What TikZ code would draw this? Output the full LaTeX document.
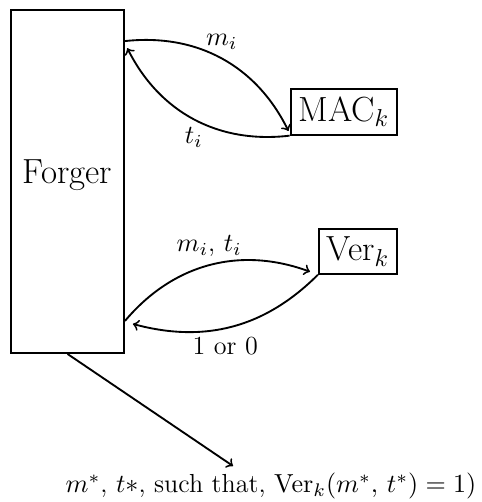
\RequirePackage{fix-cm}
\documentclass[tikz,border=0pt]{standalone}
\usepackage{amsmath,amssymb}
\usetikzlibrary{positioning,calc}

\begin{document}
\begin{tikzpicture}[
  font=\fontsize{11.2}{13.5}\selectfont, thick,
  party/.style={draw, font=\fontsize{15}{18}\selectfont},
  lk/.style={->},
]
\useasboundingbox (0,0) rectangle (7.258,-7.575);
% Forger
\node[party, minimum width=1.705cm, minimum height=5.176cm,
      text height=10pt, text depth=8.7pt] (forger) at (1.019,-2.739) {Forger};
% Oracles
\node[party, anchor=east] (mac) at (6.006,-1.690) {MAC$_k$};
\node[party, anchor=east] (ver) at (6.006,-3.795) {Ver$_k$};
% MAC queries
\draw[lk] ([yshift=-0.483cm]forger.north east) to[bend left=35]
  node[above]{$m_i$} ([shift={(-0.5pt,2pt)}]mac.south west);
\draw[lk] (mac.south west) to[bend left=35]
  node[below]{$t_i$} ([shift={(1pt,-0.59cm)}]forger.north east);
% Verification queries
\draw[lk] ([yshift=0.498cm]forger.south east) to[bend left=35]
  node[above]{$m_i$, $t_i$} ([shift={(-3.4pt,1.3pt)}]ver.south west);
\draw[lk] (ver.south west) to[bend left=30]
  node[below, pos=0.54]{1 or 0} ([shift={(3.4pt,0.453cm)}]forger.south east);
% Output
\coordinate (fout) at (3.516,-7.032);
\draw[lk] (forger.south) -- (fout);
\node[anchor=base] (win) at (4.089,-7.439)
  {$m^*$, $t*$, such that, $\mathrm{Ver}_k(m^*,\, t^*) = 1)$};
\end{tikzpicture}
\end{document}
